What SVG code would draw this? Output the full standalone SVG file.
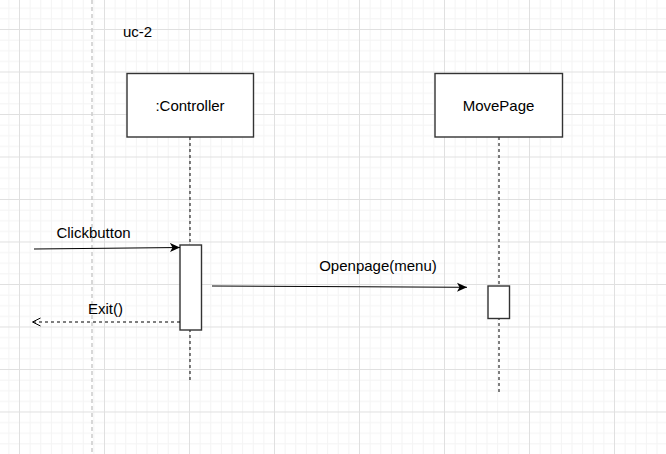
<svg xmlns="http://www.w3.org/2000/svg" width="666" height="454" viewBox="0 0 666 454">
  <style>
    .minor { stroke: #f4f4f4; stroke-width: 1; fill: none; }
    .major { stroke: #e0e0e0; stroke-width: 1; fill: none; }
    .box { fill: #ffffff; stroke: #333333; stroke-width: 1.4; }
    .life { stroke: #000000; stroke-width: 1; stroke-dasharray: 3 3; fill: none; }
    .msg { stroke: #000000; stroke-width: 1; fill: none; }
    .ret { stroke: #000000; stroke-width: 1; stroke-dasharray: 3 3; fill: none; }
    .lbl { font-family: "Liberation Sans", Arial, sans-serif; font-size: 15px; fill: #000000; }
  </style>
  <defs>
    <pattern id="grid" patternUnits="userSpaceOnUse" x="19" y="29" width="85" height="42.5">
      <path class="minor" d="M11.125,0V42.5M21.75,0V42.5M32.375,0V42.5M43,0V42.5M53.625,0V42.5M64.25,0V42.5M74.875,0V42.5M0,11.125H85M0,21.75H85M0,32.375H85"/>
      <path class="major" d="M0.5,0V42.5M0,0.5H85"/>
    </pattern>
    <marker id="block" viewBox="0 0 10 10" refX="10" refY="5" markerWidth="10" markerHeight="10" markerUnits="userSpaceOnUse" orient="auto">
      <path d="M0,0.5 L10,5 L0,9.5 L2.5,5 z" fill="#000000"/>
    </marker>
    <marker id="open" viewBox="0 0 10 10" refX="9.5" refY="5" markerWidth="10" markerHeight="10" markerUnits="userSpaceOnUse" orient="auto">
      <path d="M1,1 L9,5 L1,9" fill="none" stroke="#000000" stroke-width="1"/>
    </marker>
  </defs>

  <rect x="0" y="0" width="666" height="454" fill="#ffffff"/>
  <rect x="0" y="0" width="666" height="454" fill="url(#grid)"/>
  <line x1="92" y1="0" x2="92" y2="454" stroke="#cccccc" stroke-width="1.5" stroke-dasharray="4 3"/>

  <text class="lbl" x="123" y="37">uc-2</text>

  <g id="controller">
    <line class="life" x1="190" y1="137" x2="190" y2="382"/>
    <rect class="box" x="127" y="73.5" width="126.5" height="63.5"/>
    <text class="lbl" x="190" y="111" text-anchor="middle">:Controller</text>
    <rect class="box" x="180" y="245" width="21.5" height="85"/>
  </g>

  <g id="movepage">
    <line class="life" x1="499" y1="137" x2="499" y2="392"/>
    <rect class="box" x="435" y="73.5" width="127.5" height="63.5"/>
    <text class="lbl" x="498.5" y="111" text-anchor="middle">MovePage</text>
    <rect class="box" x="488" y="286" width="21.5" height="32.5"/>
  </g>

  <g id="connectors">
    <line class="msg" x1="34" y1="249" x2="180" y2="247.5" marker-end="url(#block)"/>
    <text class="lbl" x="93.5" y="238" text-anchor="middle">Clickbutton</text>
    <line class="msg" x1="212" y1="286" x2="467" y2="287.3" marker-end="url(#block)"/>
    <text class="lbl" x="378" y="271" text-anchor="middle">Openpage(menu)</text>
    <line class="ret" x1="180" y1="322" x2="32" y2="322" marker-end="url(#open)"/>
    <text class="lbl" x="105.5" y="314" text-anchor="middle">Exit()</text>
  </g>
</svg>
